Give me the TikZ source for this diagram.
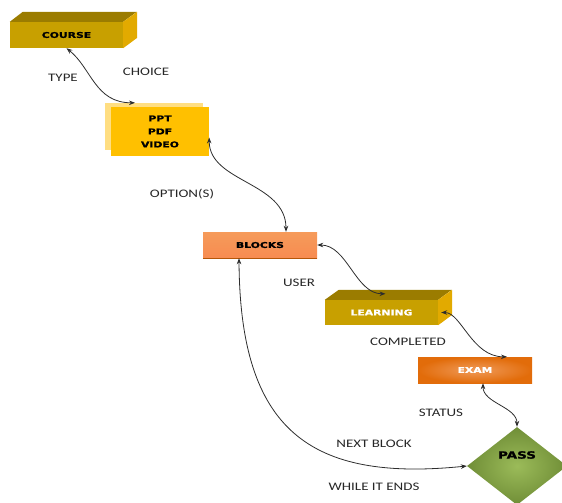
\documentclass[tikz,border=0pt]{standalone}
\usepackage{fontspec}
\setmainfont{Carlito}[FakeStretch=1.3]
\newfontfamily\boxfont{DejaVu Sans}[FakeStretch=1.35,BoldFeatures={FakeBold=1.2}]
\usetikzlibrary{arrows.meta,shapes.geometric}
\definecolor{goldfront}{RGB}{200,160,0}
\definecolor{goldtop}{RGB}{155,124,0}
\definecolor{goldside}{RGB}{226,170,0}
\definecolor{paleamber}{RGB}{255,222,130}
\definecolor{amber}{RGB}{255,192,0}
\definecolor{peach}{RGB}{246,155,90}
\definecolor{peachlight}{RGB}{250,190,145}
\definecolor{rust}{RGB}{226,108,10}
\definecolor{rustlight}{RGB}{240,155,90}
\definecolor{olive}{RGB}{112,142,55}
\definecolor{olivelight}{RGB}{155,187,89}
\definecolor{wire}{RGB}{45,45,45}

\begin{document}
\begin{tikzpicture}[x=1pt,y=-1pt,
  face/.style={inner sep=0pt, font=\boxfont\bfseries\fontsize{8}{9}\selectfont},
  lbl/.style={font=\fontsize{11.5}{13}\selectfont, text=black!85},
  link/.style={draw=wire, line width=0.8pt, <->, >={Stealth[length=6pt,width=4.5pt]}}]
\useasboundingbox (0,0) rectangle (562,503);
\clip (0,0) rectangle (562,503);
%course box
\node[face, fill=goldfront, minimum width=113pt, minimum height=26pt] (course) at (66.5,35) {COURSE};
\fill[goldtop] (course.north west) -- ++(13,-10) -- ++(114,0) -- (course.north east) -- cycle;
\fill[goldside] (course.north east) -- ++(14,-10) -- ++(0,26) -- (course.south east) -- cycle;
%media
\node[fill=paleamber, minimum width=98pt, minimum height=47pt] (mediaback) at (154,126.5) {};
\node[face, fill=amber, minimum width=98pt, minimum height=49pt, align=center,
  font=\boxfont\bfseries\fontsize{8}{13}\selectfont] (media) at (160,131.5) {PPT\\PDF\\VIDEO};
%blocks
\node[face, minimum width=114pt, minimum height=26pt, top color=peach, middle color=peachlight,
  bottom color=peach!90!red] (blocks) at (260,245) {BLOCKS};
\draw[rust!80!black, line width=1.2pt] (blocks.south west) -- (blocks.south east);
%learning box
\node[face, fill=goldfront, text=white, minimum width=113pt, minimum height=25pt] (learning) at (381.5,312.5) {LEARNING};
\fill[goldtop] (learning.north west) -- ++(14,-10) -- ++(113,0) -- (learning.north east) -- cycle;
\fill[goldside] (learning.north east) -- ++(14,-10) -- ++(0,25) -- (learning.south east) -- cycle;
%exam
\node[face, text=white, minimum width=114pt, minimum height=26pt, shading=radial,
  inner color=rustlight, outer color=rust] (exam) at (475,370) {EXAM};
%pass
\node[diamond, inner sep=0pt, minimum width=100pt, minimum height=78pt, shading=radial,
  inner color=olivelight, outer color=olive] (pass) at (517,466) {};
\node[face, font=\boxfont\bfseries\fontsize{10}{11}\selectfont] (passtxt) at (517,455) {PASS};
%labels
\node[lbl] (type) at (63,78) {TYPE};
\node[lbl] (choice) at (146,72) {CHOICE};
\node[lbl] (option) at (182,194) {OPTION(S)};
\node[lbl] (user) at (299,283) {USER};
\node[lbl] (done) at (408,342) {COMPLETED};
\node[lbl] (status) at (441,413) {STATUS};
\node[lbl] (next) at (374,444) {NEXT BLOCK};
\node[lbl] (ends) at (374,487) {WHILE IT ENDS};
%links
\draw[link] (course.south) .. controls +(25,20) and +(-40,0) .. ([xshift=-19pt]mediaback.north);
\draw[link] ([yshift=-6pt]media.east) .. controls +(0,45) and +(0,-50) .. ([xshift=26pt]blocks.north);
\draw[link] (blocks.east) .. controls +(30,0) and +(-30,0) .. ([xshift=4pt,yshift=6pt]learning.north);
\draw[link] ([xshift=3pt]learning.east) .. controls +(20,0) and +(-35,0) .. ([xshift=32pt]exam.north);
\draw[link] ([xshift=8pt]exam.south) .. controls +(0,20) and +(0,-20) .. (pass.north);
\draw[link] ([xshift=-21pt]blocks.south) .. controls +(1,172) and +(-157,16) .. (pass.west);
\end{tikzpicture}
\end{document}
